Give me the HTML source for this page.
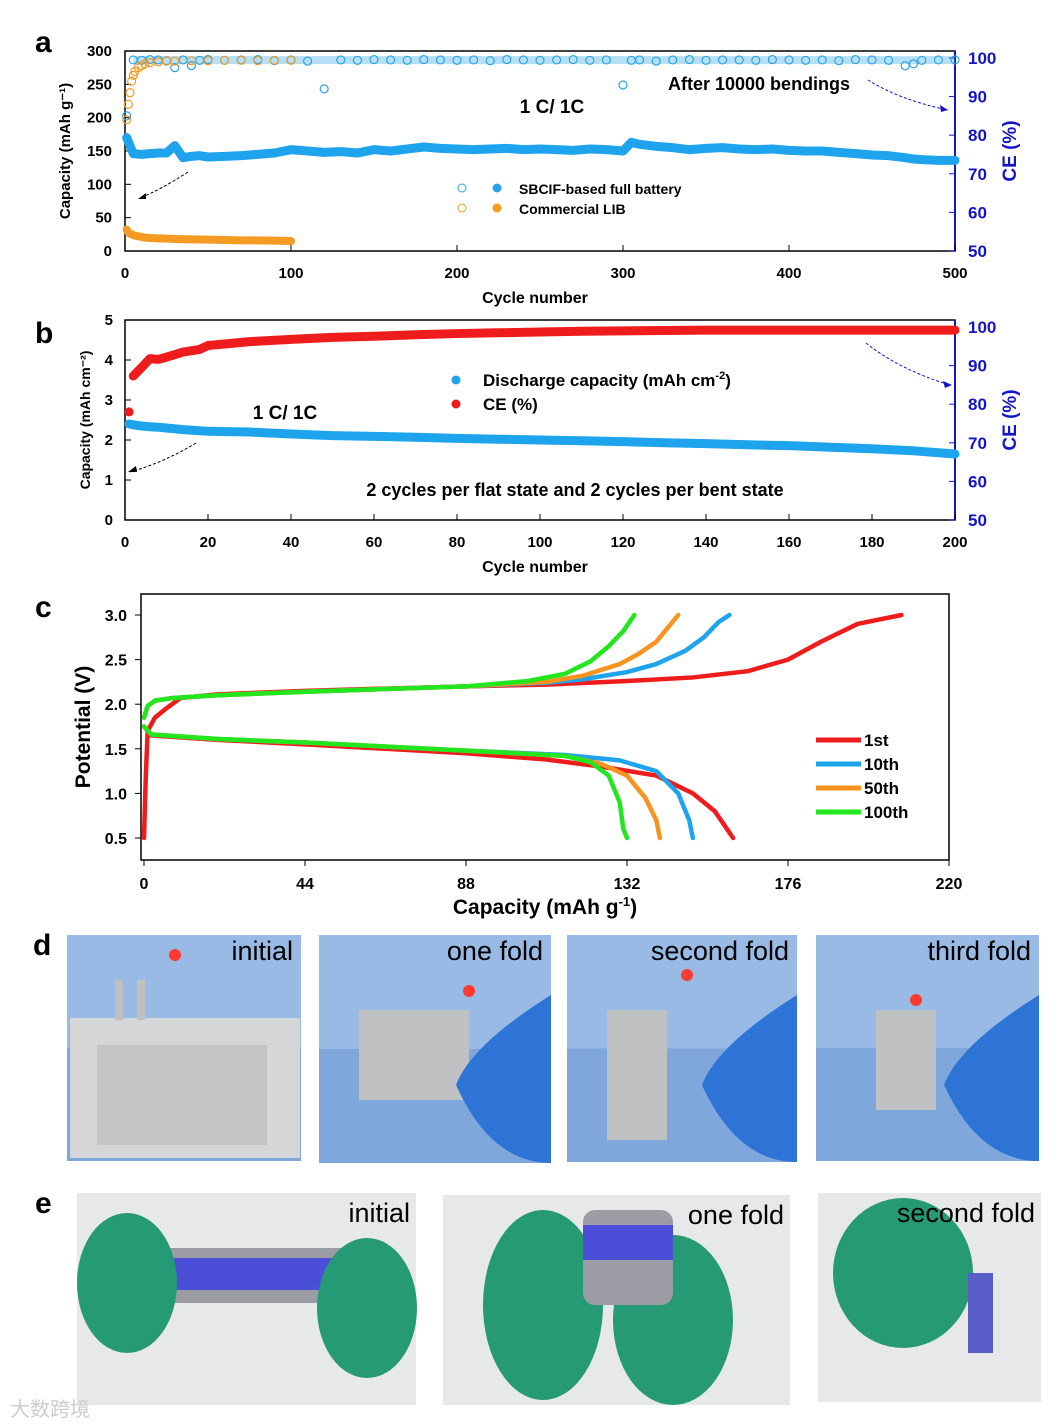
<!DOCTYPE html>
<html><head><meta charset="utf-8"><style>
html,body{margin:0;padding:0;background:#fff}
svg{display:block}
text{font-family:"Liberation Sans",Arial,sans-serif;font-weight:bold}
</style></head><body>
<svg id="fig" width="1064" height="1426" viewBox="0 0 1064 1426" xmlns="http://www.w3.org/2000/svg">
<g id="pa"></g>
<g id="pb"></g>
<g id="pc"></g>
<g id="pd"></g>
<g id="pe"></g>
</svg>
<script>
// ---------- Panel a data ----------
const aCycles = [1,5,10,15,20,25,30,35,40,45,50,60,70,80,90,100,110,120,130,140,150,160,170,180,190,200,210,220,230,240,250,260,270,280,290,300,305,310,320,330,340,350,360,370,380,390,400,410,420,430,440,450,460,470,475,480,490,500];
const aCapSBCIF = [170,146,145,146,147,147,158,140,142,143,141,142,143,145,147,152,150,148,149,147,152,150,153,156,154,153,152,153,154,152,153,152,151,153,152,150,163,160,157,155,152,154,155,153,152,153,151,150,150,148,146,144,143,140,138,137,136,136];
const aCE_SBCIF = [85,99.5,99.4,99.6,99.5,99.3,97.5,99.5,98,99.4,99.6,99.4,99.5,99.6,99.3,99.5,99.2,92,99.5,99.4,99.6,99.5,99.4,99.6,99.5,99.4,99.5,99.3,99.6,99.5,99.4,99.5,99.6,99.4,99.5,93,99.4,99.5,99.2,99.5,99.6,99.4,99.5,99.5,99.4,99.6,99.5,99.4,99.5,99.3,99.6,99.5,99.4,98,98.5,99.4,99.5,99.5];
const aLIBCycles = [1,2,3,4,5,6,8,10,12,15,20,25,30,40,50,60,70,80,90,100];
const aCapLIB = [32,28,26,25,24,23,22,21,20,19.5,19,18.5,18,17.5,17,16.5,16,16,15.5,15];
const aCE_LIB = [84,88,91,94,95.5,96.5,97.5,98,98.5,98.8,99,99.2,99.2,99.3,99.3,99.4,99.4,99.3,99.4,99.4];
const aXTicks = [0,100,200,300,400,500];
const aYTicks = [0,50,100,150,200,250,300];
const aCETicks = [50,60,70,80,90,100];
// ---------- Panel b data ----------
const bCycles = [1,2,4,6,8,10,14,18,20,25,30,40,50,60,70,80,90,100,110,120,130,140,150,160,170,180,190,200];
const bCap = [2.4,2.38,2.35,2.33,2.32,2.3,2.26,2.23,2.22,2.21,2.2,2.15,2.11,2.09,2.07,2.04,2.02,2.0,1.98,1.96,1.93,1.91,1.88,1.86,1.82,1.78,1.73,1.65];
const bCE = [78,87.3,89.5,91.8,91.6,92.2,93.5,94.2,95.2,95.7,96.2,96.8,97.3,97.6,98.0,98.3,98.5,98.7,98.9,99.0,99.1,99.2,99.2,99.2,99.2,99.2,99.2,99.2];
const bXTicks = [0,20,40,60,80,100,120,140,160,180,200];
const bYTicks = [0,1,2,3,4,5];
const bCETicks = [50,60,70,80,90,100];
// ---------- Panel c data ----------
const cLabels = ["1st","10th","50th","100th"];
const cChargeCap = [
 [0,0.5,1,3,6,10,20,44,88,110,132,150,165,176,185,195,207],
 [0,1,3,8,20,44,88,110,120,132,140,148,153,157,160],
 [0,1,3,8,20,44,88,110,120,130,135,140,146],
 [0,1,3,8,20,44,88,105,115,122,127,131,134]];
const cChargeV = [
 [0.5,1.2,1.7,1.85,1.95,2.07,2.11,2.15,2.2,2.22,2.26,2.3,2.37,2.5,2.7,2.9,3.0],
 [1.85,1.98,2.04,2.07,2.1,2.14,2.2,2.24,2.28,2.36,2.45,2.6,2.75,2.92,3.0],
 [1.85,1.98,2.04,2.07,2.1,2.14,2.2,2.25,2.32,2.45,2.56,2.7,3.0],
 [1.85,1.98,2.04,2.07,2.1,2.14,2.2,2.26,2.34,2.48,2.65,2.82,3.0]];
const cDisCap = [
 [0,2,20,44,88,110,125,140,150,156,161],
 [0,2,20,44,88,115,130,140,146,149,150],
 [0,2,20,44,88,115,125,132,137,140,141],
 [0,2,20,44,88,115,122,127,130,131,132]];
const cDisV = [
 [1.75,1.65,1.6,1.55,1.45,1.38,1.3,1.2,1.0,0.8,0.5],
 [1.75,1.66,1.61,1.57,1.48,1.43,1.37,1.25,1.0,0.7,0.5],
 [1.75,1.66,1.61,1.57,1.48,1.42,1.33,1.2,0.95,0.7,0.5],
 [1.75,1.66,1.61,1.57,1.48,1.42,1.35,1.2,0.9,0.6,0.5]];
const cXTicks = [0,44,88,132,176,220];
const cYTicks = [0.5,1.0,1.5,2.0,2.5,3.0];

const NS="http://www.w3.org/2000/svg";
function mk(parent,tag,attrs,txt){const e=document.createElementNS(NS,tag);for(const k in attrs)e.setAttribute(k,attrs[k]);if(txt!==undefined)e.textContent=txt;parent.appendChild(e);return e;}
function lin(d0,d1,r0,r1){return v=>r0+(v-d0)/(d1-d0)*(r1-r0);}

// ---------- draw panel a ----------
(function(){
 const g=document.getElementById('pa');
 const x=lin(0,500,125,955), y=lin(0,300,251,51), yc=lin(50,100,251,58);
 let t=mk(g,'text',{x:35,y:52,'font-size':30,fill:'#000'},'a');
 
 let f=mk(g,'rect',{x:125,y:51,width:830,height:200,fill:'none',stroke:'#000','stroke-width':1.5});
 
 mk(g,'line',{x1:955,y1:51,x2:955,y2:251,stroke:'#1515c8','stroke-width':2});
 aXTicks.forEach(v=>{mk(g,'line',{x1:x(v),y1:251,x2:x(v),y2:245,stroke:'#000'});
  let e=mk(g,'text',{x:x(v),y:278,'font-size':15,'text-anchor':'middle'},v);
  });
 aYTicks.forEach(v=>{mk(g,'line',{x1:125,y1:y(v),x2:131,y2:y(v),stroke:'#000'});
  let e=mk(g,'text',{x:112,y:y(v)+5,'font-size':15,'text-anchor':'end'},v);
  });
 aCETicks.forEach(v=>{mk(g,'line',{x1:955,y1:yc(v),x2:949,y2:yc(v),stroke:'#1515c8'});
  let e=mk(g,'text',{x:968,y:yc(v)+6,'font-size':17,fill:'#1515c8'},v);
  });
 let e=mk(g,'text',{x:535,y:303,'font-size':16,'text-anchor':'middle'},'Cycle number');
 
 e=mk(g,'text',{x:0,y:0,'font-size':15,'text-anchor':'middle',transform:'translate(70,151) rotate(-90)'},'Capacity (mAh g⁻¹)');
 
 e=mk(g,'text',{x:0,y:0,'font-size':19,'text-anchor':'middle',fill:'#1515c8',transform:'translate(1016,151) rotate(-90)'},'CE (%)');
 
 // CE SBCIF open circles
 aCycles.forEach((c,i)=>{let p=mk(g,'circle',{cx:x(c),cy:yc(aCE_SBCIF[i]),r:4,fill:'none',stroke:'#29a3e6','stroke-width':1.2});
  });
 let band=mk(g,'polyline',{points:aCycles.filter((c,i)=>aCE_SBCIF[i]>99).map((c)=>x(c)+','+yc(99.45)).join(' '),fill:'none',stroke:'#29a3e6','stroke-width':8,'stroke-opacity':0.35});
 
 aLIBCycles.forEach((c,i)=>{let p=mk(g,'circle',{cx:x(c),cy:yc(aCE_LIB[i]),r:4,fill:'none',stroke:'#f59a23','stroke-width':1.2});
  });
 let pl=mk(g,'polyline',{points:aCycles.map((c,i)=>x(c)+','+y(aCapSBCIF[i])).join(' '),fill:'none',stroke:'#1ea4ec','stroke-width':9,'stroke-linejoin':'round','stroke-linecap':'round'});
 
 pl=mk(g,'polyline',{points:aLIBCycles.map((c,i)=>x(c)+','+y(aCapLIB[i])).join(' '),fill:'none',stroke:'#f59a23','stroke-width':8,'stroke-linejoin':'round','stroke-linecap':'round'});
 
 e=mk(g,'text',{x:552,y:113,'font-size':19,'text-anchor':'middle'},'1 C/ 1C');
 e=mk(g,'text',{x:668,y:90,'font-size':18},'After 10000 bendings');
 mk(g,'path',{d:'M868,80 Q900,100 948,110',fill:'none',stroke:'#1515c8','stroke-dasharray':'3,2'});
 mk(g,'path',{d:'M948,110 l-8,-5 l1,7 z',fill:'#1515c8'});
 mk(g,'path',{d:'M188,172 Q160,190 140,198',fill:'none',stroke:'#000','stroke-dasharray':'3,2'});
 mk(g,'path',{d:'M138,199 l8,-6 l0,6 z',fill:'#000'});
 const leg=[['SBCIF-based full battery','#29a3e6',189],['Commercial LIB','#f59a23',209]];
 leg.forEach(l=>{mk(g,'circle',{cx:462,cy:l[2]-1,r:4,fill:'none',stroke:l[1]});mk(g,'circle',{cx:497,cy:l[2]-1,r:4.5,fill:l[1]});
  let q=mk(g,'text',{x:519,y:l[2]+5,'font-size':14},l[0]);});
})();

// ---------- draw panel b ----------
(function(){
 const g=document.getElementById('pb');
 const x=lin(0,200,125,955), y=lin(0,5,520,320), yc=lin(50,100,520,327);
 let t=mk(g,'text',{x:35,y:343,'font-size':30},'b');
 mk(g,'rect',{x:125,y:320,width:830,height:200,fill:'none',stroke:'#000','stroke-width':1.5});
 mk(g,'line',{x1:955,y1:320,x2:955,y2:520,stroke:'#1515c8','stroke-width':2});
 bXTicks.forEach(v=>{mk(g,'line',{x1:x(v),y1:520,x2:x(v),y2:514,stroke:'#000'});
  let e=mk(g,'text',{x:x(v),y:547,'font-size':15,'text-anchor':'middle'},v);});
 bYTicks.forEach(v=>{mk(g,'line',{x1:125,y1:y(v),x2:131,y2:y(v),stroke:'#000'});
  let e=mk(g,'text',{x:113,y:y(v)+5,'font-size':15,'text-anchor':'end'},v);});
 bCETicks.forEach(v=>{mk(g,'line',{x1:955,y1:yc(v),x2:949,y2:yc(v),stroke:'#1515c8'});
  let e=mk(g,'text',{x:968,y:yc(v)+6,'font-size':17,fill:'#1515c8'},v);});
 let e=mk(g,'text',{x:535,y:572,'font-size':16,'text-anchor':'middle'},'Cycle number');
 e=mk(g,'text',{x:0,y:0,'font-size':14,'text-anchor':'middle',transform:'translate(90,420) rotate(-90)'},'Capacity (mAh cm⁻²)');
 e=mk(g,'text',{x:0,y:0,'font-size':19,'text-anchor':'middle',fill:'#1515c8',transform:'translate(1016,420) rotate(-90)'},'CE (%)');
 let d=mk(g,'circle',{cx:x(bCycles[0]),cy:yc(bCE[0]),r:4.5,fill:'#ee1c1c'});
 let pl=mk(g,'polyline',{points:bCycles.slice(1).map((c,i)=>x(c)+','+yc(bCE[i+1])).join(' '),fill:'none',stroke:'#ee1c1c','stroke-width':9,'stroke-linejoin':'round','stroke-linecap':'round'});
 
 pl=mk(g,'polyline',{points:bCycles.map((c,i)=>x(c)+','+y(bCap[i])).join(' '),fill:'none',stroke:'#1ea4ec','stroke-width':9,'stroke-linejoin':'round','stroke-linecap':'round'});
 
 e=mk(g,'text',{x:285,y:419,'font-size':19,'text-anchor':'middle'},'1 C/ 1C');
 e=mk(g,'text',{x:575,y:496,'font-size':18,'text-anchor':'middle'},'2 cycles per flat state and 2 cycles per bent state');
 mk(g,'circle',{cx:456,cy:380,r:4.5,fill:'#1ea4ec'});mk(g,'circle',{cx:456,cy:404,r:4.5,fill:'#ee1c1c'});
 e=mk(g,'text',{x:483,y:386,'font-size':17},'Discharge capacity (mAh cm');
 let ts=mk(e,'tspan',{'font-size':11,dy:-7},'-2');mk(e,'tspan',{dy:7},')');
 e=mk(g,'text',{x:483,y:410,'font-size':17},'CE (%)');
 mk(g,'path',{d:'M866,343 Q900,370 950,385',fill:'none',stroke:'#1515c8','stroke-dasharray':'3,2'});
 mk(g,'path',{d:'M952,385 l-9,-4 l2,7 z',fill:'#1515c8'});
 mk(g,'path',{d:'M196,443 Q165,462 130,472',fill:'none',stroke:'#000','stroke-dasharray':'3,2'});
 mk(g,'path',{d:'M128,472 l8,-6 l1,6 z',fill:'#000'});
})();

// ---------- draw panel c ----------
(function(){
 const g=document.getElementById('pc');
 const x=lin(0,220,144,949), y=lin(0.5,3.0,838,615);
 const cols=['#ee1c1c','#1ea4ec','#f7931e','#22e61e'];
 let t=mk(g,'text',{x:35,y:617,'font-size':30},'c');
 mk(g,'rect',{x:141,y:594,width:808,height:266,fill:'none',stroke:'#000','stroke-width':1.5});
 cXTicks.forEach(v=>{mk(g,'line',{x1:x(v),y1:860,x2:x(v),y2:866,stroke:'#000'});
  let e=mk(g,'text',{x:x(v),y:889,'font-size':16,'text-anchor':'middle'},v);});
 cYTicks.forEach(v=>{mk(g,'line',{x1:141,y1:y(v),x2:135,y2:y(v),stroke:'#000'});
  let e=mk(g,'text',{x:127,y:y(v)+6,'font-size':16,'text-anchor':'end'},v.toFixed(1));});
 let e=mk(g,'text',{x:545,y:914,'font-size':21,'text-anchor':'middle'},'Capacity (mAh g');
 mk(e,'tspan',{'font-size':13,dy:-8},'-1');mk(e,'tspan',{dy:8},')');
 e=mk(g,'text',{x:0,y:0,'font-size':21,'text-anchor':'middle',transform:'translate(90,727) rotate(-90)'},'Potential (V)');
 cLabels.forEach((lab,k)=>{
  let p=mk(g,'polyline',{points:cChargeCap[k].map((c,i)=>x(c)+','+y(cChargeV[k][i])).join(' '),fill:'none',stroke:cols[k],'stroke-width':4.5,'stroke-linejoin':'round','stroke-linecap':'round'});
  
  p=mk(g,'polyline',{points:cDisCap[k].map((c,i)=>x(c)+','+y(cDisV[k][i])).join(' '),fill:'none',stroke:cols[k],'stroke-width':4.5,'stroke-linejoin':'round','stroke-linecap':'round'});
  
  const ly=740+k*24;
  mk(g,'line',{x1:816,y1:ly,x2:861,y2:ly,stroke:cols[k],'stroke-width':5});
  let q=mk(g,'text',{x:864,y:ly+6,'font-size':17},lab);
 });
})();

// ---------- panels d and e (photo placeholders) ----------
(function(){
 const g=document.getElementById('pd');
 let t=mk(g,'text',{x:33,y:955,'font-size':30},'d');
 const boxes=[[67,935,234,226,'initial'],[319,935,232,228,'one fold'],[567,935,230,227,'second fold'],[816,935,223,226,'third fold']];
 boxes.forEach((b,i)=>{
  const p=mk(g,'g',{});
  mk(p,'rect',{x:b[0],y:b[1],width:b[2],height:b[3],fill:'#7fa7db'});
  mk(p,'rect',{x:b[0],y:b[1],width:b[2],height:b[3]/2,fill:'#a9c6ea','opacity':0.6});
  if(i===0){mk(p,'rect',{x:b[0]+3,y:b[1]+83,width:230,height:140,fill:'#d4d6d8'});mk(p,'rect',{x:b[0]+30,y:b[1]+110,width:170,height:100,fill:'#c2c4c6'});mk(p,'rect',{x:b[0]+48,y:b[1]+45,width:8,height:40,fill:'#c0c0c0'});mk(p,'rect',{x:b[0]+70,y:b[1]+45,width:8,height:40,fill:'#c0c0c0'});}
  else{
   const sx=[40,40,60][i-1],sw=[110,60,60][i-1];
   mk(p,'rect',{x:b[0]+sx,y:b[1]+75,width:sw,height:[90,130,100][i-1],fill:'#bfc1c3'});
   mk(p,'path',{d:`M${b[0]+b[2]} ${b[1]+60} Q${b[0]+b[2]-80} ${b[1]+110} ${b[0]+b[2]-95} ${b[1]+150} Q${b[0]+b[2]-60} ${b[1]+b[3]} ${b[0]+b[2]} ${b[1]+b[3]} Z`,fill:'#2d74d6'});
  }
  mk(p,'circle',{cx:b[0]+[108,150,120,100][i],cy:b[1]+[20,56,40,65][i],r:6,fill:'#ff3b30'});
  let q=mk(p,'text',{x:b[0]+b[2]-8,y:b[1]+25,'font-size':27,'font-weight':'normal','text-anchor':'end',style:'font-weight:normal'},b[4]);
  
 });
 const ge=document.getElementById('pe');
 t=mk(ge,'text',{x:35,y:1213,'font-size':30},'e');
 const eb=[[77,1193,339,212,'initial'],[443,1195,347,210,'one fold'],[818,1193,223,209,'second fold']];
 eb.forEach((b,i)=>{
  const p=mk(ge,'g',{});
  mk(p,'rect',{x:b[0],y:b[1],width:b[2],height:b[3],fill:'#e6e8ea'});
  if(i===0){mk(p,'rect',{x:b[0]+80,y:b[1]+55,width:200,height:55,fill:'#9b9ca4'});mk(p,'rect',{x:b[0]+90,y:b[1]+65,width:180,height:32,fill:'#4b4fd8'});
   mk(p,'ellipse',{cx:b[0]+50,cy:b[1]+90,rx:50,ry:70,fill:'#259a75'});mk(p,'ellipse',{cx:b[0]+290,cy:b[1]+115,rx:50,ry:70,fill:'#259a75'});}
  if(i===1){mk(p,'ellipse',{cx:b[0]+100,cy:b[1]+110,rx:60,ry:95,fill:'#259a75'});mk(p,'ellipse',{cx:b[0]+230,cy:b[1]+125,rx:60,ry:85,fill:'#259a75'});
   mk(p,'rect',{x:b[0]+140,y:b[1]+15,width:90,height:95,rx:12,fill:'#9b9ca4'});mk(p,'rect',{x:b[0]+140,y:b[1]+30,width:90,height:35,fill:'#4b4fd8'});}
  if(i===2){mk(p,'ellipse',{cx:b[0]+85,cy:b[1]+80,rx:70,ry:75,fill:'#259a75'});mk(p,'rect',{x:b[0]+150,y:b[1]+80,width:25,height:80,fill:'#5a5ec8'});}
  let q=mk(p,'text',{x:b[0]+b[2]-6,y:b[1]+29,'font-size':27,'text-anchor':'end',style:'font-weight:normal'},b[4]);
  
 });
 let w=mk(ge,'text',{x:10,y:1416,'font-size':20,fill:'#cccccc',style:'font-family:\"Liberation Sans\",\"Noto Sans CJK SC\",sans-serif;font-weight:normal'},'大数跨境');
 
})();
</script>
</body></html>
